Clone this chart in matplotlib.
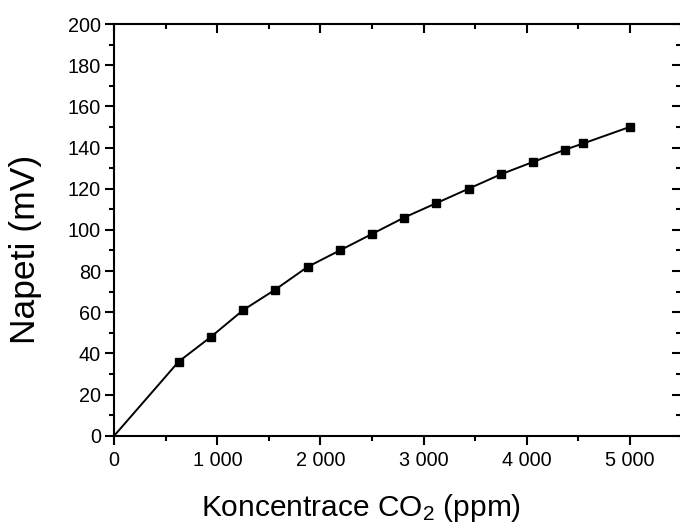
import matplotlib
matplotlib.use("Agg")
import matplotlib.pyplot as plt
from matplotlib.ticker import MultipleLocator, FuncFormatter

plt.rcParams['font.family'] = ['Liberation Sans', 'DejaVu Sans']
plt.rcParams['mathtext.fontset'] = 'custom'
plt.rcParams['mathtext.rm'] = 'Liberation Sans'
plt.rcParams['mathtext.it'] = 'Liberation Sans:italic'

concentration = [0, 625, 937.5, 1250, 1562.5, 1875, 2187.5, 2500, 2812.5,
                 3125, 3437.5, 3750, 4062.5, 4375, 4550, 5000]
voltage = [0, 36, 48, 61, 71, 82, 90, 98, 106, 113, 120, 127, 133, 139, 142, 150]

fig = plt.figure(figsize=(6.8, 5.29), dpi=100)
ax = fig.add_axes([0.168, 0.1764, 0.834, 0.7782])

ax.plot(concentration, voltage, color='black', lw=1.4)
ax.plot(concentration[1:], voltage[1:], ls='none', marker='s', ms=5.2,
        color='black')

ax.set_xlim(0, 5500)
ax.set_ylim(0, 200)
ax.xaxis.set_major_locator(MultipleLocator(1000))
ax.xaxis.set_minor_locator(MultipleLocator(500))
ax.yaxis.set_major_locator(MultipleLocator(20))
ax.yaxis.set_minor_locator(MultipleLocator(10))
ax.xaxis.set_major_formatter(FuncFormatter(lambda v, p: f"{int(round(v)):,}".replace(',', ' ')))

for s in ax.spines.values():
    s.set_linewidth(1.5)

ax.tick_params(which='both', direction='out', width=1.5, labelsize=14.3)
ax.tick_params(axis='x', which='both', pad=4.5)
ax.tick_params(axis='y', which='both', pad=3)
ax.tick_params(which='major', length=6.5)
ax.tick_params(which='minor', length=3.5)
ax.tick_params(which='both', top=True, right=True)
# top/right ticks inward
for t in ax.xaxis.get_major_ticks() + ax.xaxis.get_minor_ticks():
    t.tick2line.set_marker(3)  # TICKDOWN
for t in ax.yaxis.get_major_ticks() + ax.yaxis.get_minor_ticks():
    t.tick2line.set_marker(0)  # TICKLEFT

ax.set_xlabel(r'Koncentrace CO$_\mathregular{2}$ (ppm)', fontsize=21.5)
ax.xaxis.set_label_coords(0.436, -0.138)
ax.set_ylabel('Napeti (mV)', fontsize=25.5)
ax.yaxis.set_label_coords(-0.1275, 0.4535)

fig.savefig('out.png', dpi=100)
